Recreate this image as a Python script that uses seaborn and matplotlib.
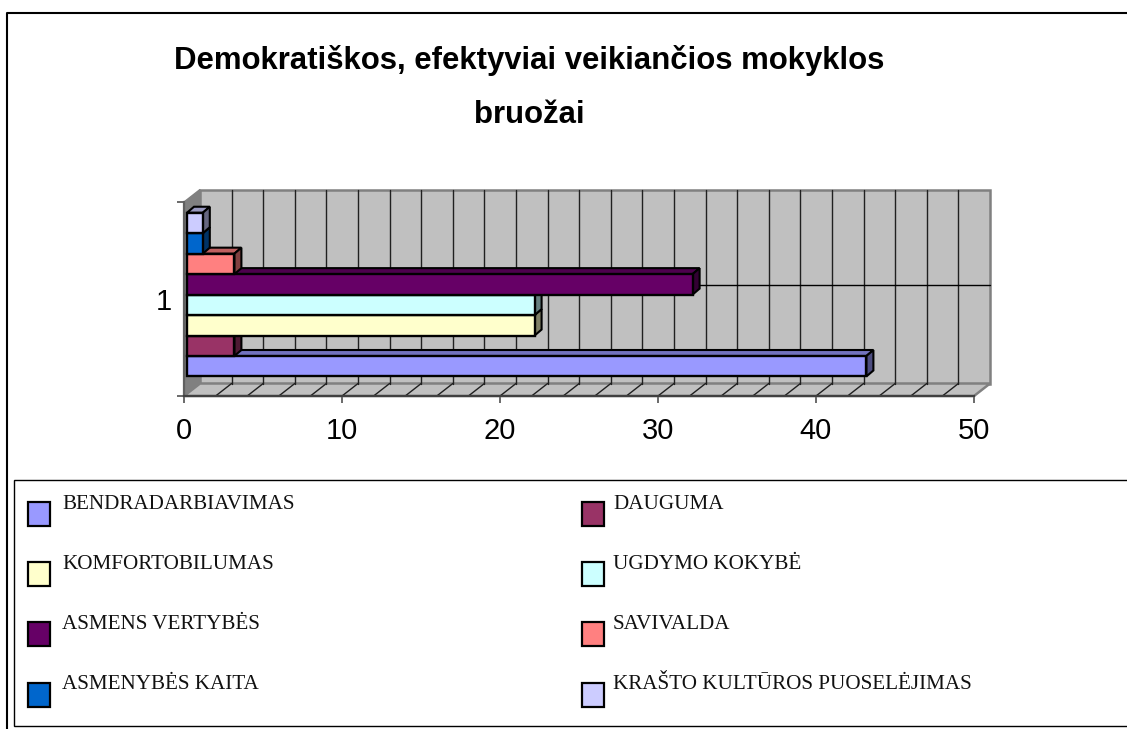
import matplotlib

matplotlib.use('Agg')
import matplotlib.pyplot as plt
import numpy as np
import pandas as pd
import seaborn as sns
from matplotlib.patches import Polygon, Rectangle

TITLE = 'Demokratiškos, efektyviai veikiančios mokyklos\nbruožai'
CATEGORY = ['1']
SERIES = ['BENDRADARBIAVIMAS', 'DAUGUMA', 'KOMFORTOBILUMAS', 'UGDYMO KOKYBĖ',
          'ASMENS VERTYBĖS', 'SAVIVALDA', 'ASMENYBĖS KAITA', 'KRAŠTO KULTŪROS PUOSELĖJIMAS']
VALUES = [43, 3, 22, 22, 32, 3, 1, 1]
COLORS = ['#9999FF', '#993366', '#FFFFCC', '#CCFFFF', '#660066', '#FF8080', '#0066CC', '#CCCCFF']
XTICKS = [0, 10, 20, 30, 40, 50]
GRID_X = list(range(2, 50, 2))

W, H = 1127, 729
# front plane of the fake 3d box, in pixels
LEFT, RIGHT, TOP, BOTTOM = 184, 974, 202, 396
PX_X = 50 / (RIGHT - LEFT)
PX_Y = 1 / (BOTTOM - TOP)
WALL_DX, WALL_DY = 16 * PX_X, 12.5 * PX_Y
BAR_DX, BAR_DY = 3 * PX_X, 4.4 * PX_Y
DEPTH_X, DEPTH_Y = 7 * PX_X, 6 * PX_Y


def shade(color, factor):
    rgb = np.array(matplotlib.colors.to_rgb(color))
    return tuple(rgb * factor)


def draw_box(ax):
    y0, y1 = -0.5, 0.5
    wall = Rectangle((WALL_DX, y0 + WALL_DY), 50, 1, fc='#C0C0C0', ec='#808080', lw=1.8, zorder=1, clip_on=False)
    side = Polygon([(0, y0), (WALL_DX, y0 + WALL_DY), (WALL_DX, y1 + WALL_DY), (0, y1)],
                   fc='#808080', ec='#808080', lw=1, zorder=1, clip_on=False)
    floor = Polygon([(0, y0), (50, y0), (50 + WALL_DX, y0 + WALL_DY), (WALL_DX, y0 + WALL_DY)],
                    fc='#C0C0C0', ec='#808080', lw=1.8, zorder=1, clip_on=False)
    ax.add_patch(wall)
    ax.add_patch(side)
    ax.add_patch(floor)
    for v in GRID_X:
        ax.plot([v + WALL_DX] * 2, [y0 + WALL_DY, y1 + WALL_DY], color='#202020', lw=1, zorder=1.5, clip_on=False)
        ax.plot([v, v + WALL_DX], [y0, y0 + WALL_DY], color='#202020', lw=1, zorder=1.5, clip_on=False)
    mid = WALL_DY + 1.5 * PX_Y
    ax.plot([WALL_DX, 50 + WALL_DX], [mid, mid], color='black', lw=1, zorder=1.5, clip_on=False)


def extrude_bars(ax):
    # seaborn draws the front faces, the top and end faces are added from them
    for i, patch in enumerate(ax.patches[:len(SERIES)]):
        patch.set_x(patch.get_x() + BAR_DX)
        patch.set_y(patch.get_y() + BAR_DY)
        patch.set_zorder(3 + i)
        patch.set_clip_on(False)
        x0, y0 = patch.get_x(), patch.get_y()
        x1, y1 = x0 + patch.get_width(), y0 + patch.get_height()
        color = COLORS[i]
        top = Polygon([(x0, y1), (x1, y1), (x1 + DEPTH_X, y1 + DEPTH_Y), (x0 + DEPTH_X, y1 + DEPTH_Y)],
                      fc=shade(color, 0.75), ec='black', lw=1.5, zorder=3 + i - 0.5, clip_on=False)
        end = Polygon([(x1, y0), (x1 + DEPTH_X, y0 + DEPTH_Y), (x1 + DEPTH_X, y1 + DEPTH_Y), (x1, y1)],
                      fc=shade(color, 0.5), ec='black', lw=1.5, zorder=3 + i - 0.5, clip_on=False)
        ax.add_patch(top)
        ax.add_patch(end)


def draw_legend(overlay):
    overlay.add_patch(Rectangle((14, 480), 1120, 246, fc='white', ec='black', lw=1, zorder=1))
    for i, (name, color) in enumerate(zip(SERIES, COLORS)):
        row, col = i // 2, i % 2
        box_x = 28 if col == 0 else 582
        text_x = 62 if col == 0 else 613
        box_y = 502 + row * 60.2
        overlay.add_patch(Rectangle((box_x, box_y), 22, 24, fc=color, ec='black', lw=1.6, zorder=2))
        overlay.text(text_x, box_y + 2, name, family='Liberation Serif', fontsize=15.2,
                     color='#111111', va='center', ha='left', zorder=2)


def main():
    df = pd.DataFrame({'category': CATEGORY * len(SERIES), 'series': SERIES, 'value': VALUES})

    sns.set_style('white')
    plt.rcParams['font.family'] = ['Liberation Sans', 'DejaVu Sans']

    fig = plt.figure(figsize=(W / 100, H / 100), dpi=100)

    overlay = fig.add_axes([0, 0, 1, 1])
    overlay.set_xlim(0, W)
    overlay.set_ylim(H, 0)
    overlay.set_axis_off()
    overlay.plot([6.5, 6.5, W], [H, 13, 13], color='black', lw=1.5)
    draw_legend(overlay)
    overlay.text(529, 87.5, TITLE, ha='center', va='center', fontsize=22.45, fontweight='bold',
                 color='black', linespacing=2.02)

    ax = fig.add_axes([LEFT / W, 1 - BOTTOM / H, (RIGHT - LEFT) / W, (BOTTOM - TOP) / H])
    ax.patch.set_visible(False)
    sns.barplot(data=df, x='value', y='category', hue='series', hue_order=SERIES, palette=COLORS,
                orient='h', width=0.844, edgecolor='black', linewidth=1.7, saturation=1,
                legend=False, ax=ax)
    ax.set_xlim(0, 50)
    ax.set_ylim(-0.5, 0.5)
    ax.set_xlabel('')
    ax.set_ylabel('')
    draw_box(ax)
    extrude_bars(ax)

    ax.set_xticks(XTICKS)
    ax.set_yticks([-0.5, 0.5], labels=['', ''])
    ax.set_yticks([0], labels=CATEGORY, minor=True)
    ax.tick_params(axis='both', which='major', length=5, width=1.2, color='#505050',
                   labelsize=21, labelcolor='black', left=True, bottom=True)
    ax.tick_params(axis='x', pad=10)
    ax.tick_params(axis='y', which='minor', length=2, width=1, color='#505050', direction='in',
                   labelsize=21, labelcolor='black', pad=9, left=True)
    for name in ('top', 'right'):
        ax.spines[name].set_visible(False)
    ax.spines['left'].set_color('#606060')
    ax.spines['bottom'].set_color('#404040')
    for name in ('left', 'bottom'):
        ax.spines[name].set_linewidth(1.6)
        ax.spines[name].set_zorder(2)

    fig.savefig('out.png', dpi=100)
    plt.close(fig)


if __name__ == '__main__':
    main()
